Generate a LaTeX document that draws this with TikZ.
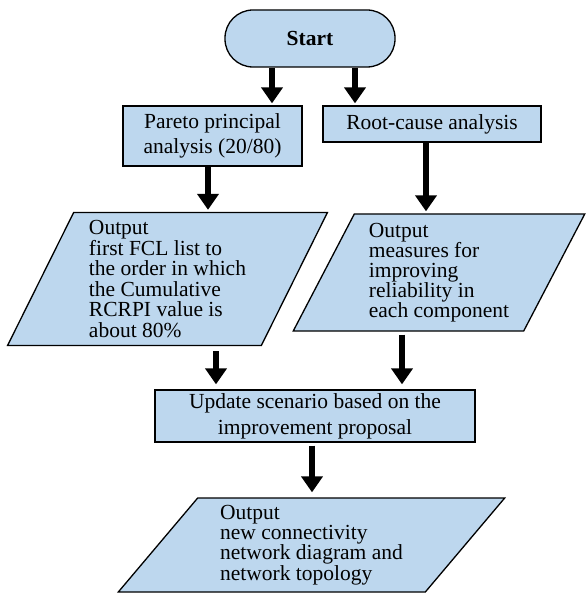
\documentclass[tikz,border=0pt]{standalone}
\usepackage{fontspec}
\setmainfont{Liberation Serif}
\usetikzlibrary{shapes.geometric,arrows.meta}
\definecolor{boxblue}{RGB}{189,215,238}

\tikzset{
  stepbox/.style={draw, fill=boxblue, line width=1.3pt, align=center, inner sep=0pt,
    font=\fontsize{21.5}{25}\selectfont},
  iobox/.style={trapezium, trapezium stretches=true, draw, fill=boxblue,
    line width=1.3pt, align=left, inner sep=0pt},
  flow/.style={line width=6pt, -{Triangle[length=16pt,width=21pt]}, shorten >=2pt}
}

\begin{document}
\begin{tikzpicture}[x=1pt, y=-1pt]
	\useasboundingbox (0,0) rectangle (586,593);
	% start
	\node[stepbox, rounded corners=28pt, minimum width=170pt, minimum height=57pt,
	  font=\fontsize{21.5}{25}\selectfont\bfseries] (start) at (310,38.5) {Start};
	% first step
	\node[stepbox, minimum width=179pt, minimum height=60pt] (pareto) at (212.5,136)
	  {Pareto principal\\analysis (20/80)};
	\node[stepbox, minimum width=218pt, minimum height=36pt] (rootcause) at (432,124)
	  {Root-cause analysis};
	% outputs
	\node[iobox, trapezium left angle=64.7, trapezium right angle=115.3,
	  minimum width=321pt, minimum height=133pt,
	  font=\fontsize{21.5}{20.5}\selectfont] (fcl) at (167.5,279)
	  {Output\\first FCL list to\\the order in which\\the Cumulative\\RCRPI value is\\about 80\%};
	\node[iobox, trapezium left angle=62.9, trapezium right angle=117.1,
	  minimum width=292pt, minimum height=117pt,
	  font=\fontsize{21.5}{20}\selectfont] (measures) at (439,272.5)
	  {Output\\measures for\\improving\\reliability in\\each component};
	% update
	\node[stepbox, minimum width=320pt, minimum height=52pt,
	  font=\fontsize{21.5}{26}\selectfont] (update) at (315,416)
	  {Update scenario based on the\\improvement proposal};
	\node[iobox, trapezium left angle=51.4, trapezium right angle=128.6,
	  minimum width=387pt, minimum height=94pt,
	  font=\fontsize{21.5}{18.5}\selectfont] (network) at (311.5,545)
	  {Output\\new connectivity\\network diagram and\\network topology};
	% arrows
	\draw[flow] ([xshift=-38pt]start.south) -- ([xshift=-38pt]start.south |- pareto.north);
	\draw[flow] ([xshift=45pt]start.south) -- ([xshift=45pt]start.south |- rootcause.north);
	\draw[flow] ([xshift=-4.5pt]pareto.south) -- ([xshift=-4.5pt]pareto.south |- fcl.north);
	\draw[flow] ([xshift=-6pt]rootcause.south) -- ([xshift=-6pt]rootcause.south |- measures.north);
	\draw[flow, shorten <=5pt, shorten >=5pt] ([xshift=-99pt]update.north |- fcl.south) -- ([xshift=-99pt]update.north);
	\draw[flow, shorten <=3pt, shorten >=5pt] ([xshift=87pt]update.north |- measures.south) -- ([xshift=87pt]update.north);
	\draw[flow, shorten <=3pt, shorten >=5pt] ([xshift=-3pt]update.south) -- ([xshift=-3pt]update.south |- network.north);
\end{tikzpicture}
\end{document}
